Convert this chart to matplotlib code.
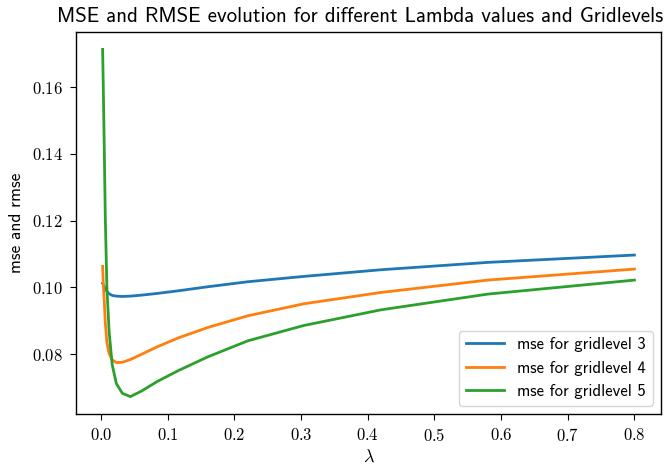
import matplotlib
matplotlib.use("Agg")
import matplotlib.pyplot as plt
from matplotlib.ticker import FuncFormatter

lambdas = [0.0024, 0.0034, 0.0046, 0.0064, 0.0088, 0.0122, 0.0168, 0.023, 0.032,
           0.044, 0.061, 0.084, 0.116, 0.16, 0.22, 0.304, 0.42, 0.58, 0.8]

mse_g3 = [0.1012, 0.1008, 0.1003, 0.0997, 0.0988, 0.0981, 0.0976, 0.0974, 0.0973,
          0.0974, 0.0977, 0.0982, 0.0990, 0.1002, 0.1017, 0.1033, 0.1053, 0.1075, 0.1097]
mse_g4 = [0.1063, 0.1010, 0.0970, 0.0895, 0.0835, 0.0802, 0.0783, 0.0775, 0.0776,
          0.0784, 0.0800, 0.0822, 0.0849, 0.0880, 0.0915, 0.0951, 0.0985, 0.1022, 0.1055]
mse_g5 = [0.1713, 0.1600, 0.1450, 0.1210, 0.1000, 0.0866, 0.0768, 0.0712, 0.0683,
          0.0673, 0.0690, 0.0718, 0.0751, 0.0792, 0.0840, 0.0886, 0.0933, 0.0980, 0.1022]

labels = ["mse for gridlevel 3", "mse for gridlevel 4", "mse for gridlevel 5"]
xticks = [0.0, 0.1, 0.2, 0.3, 0.4, 0.5, 0.6, 0.7, 0.8]
yticks = [0.08, 0.10, 0.12, 0.14, 0.16]

plt.rcParams['font.family'] = ['cmss10', 'DejaVu Sans']
plt.rcParams['mathtext.fontset'] = 'cm'
plt.rcParams['axes.unicode_minus'] = False

fig = plt.figure(figsize=(6.67, 4.67), dpi=100)
ax = fig.add_axes([0.114, 0.1135, 0.877, 0.818])

for ys, lab in zip([mse_g3, mse_g4, mse_g5], labels):
    ax.plot(lambdas, ys, label=lab, linewidth=2)

ax.set_xticks(xticks)
ax.set_yticks(yticks)
ax.xaxis.set_major_formatter(FuncFormatter(lambda v, p: r"$%.1f$" % v))
ax.yaxis.set_major_formatter(FuncFormatter(lambda v, p: r"$%.2f$" % v))
ax.tick_params(labelsize=12, length=4.3, pad=5)
for s in ax.spines.values():
    s.set_linewidth(1.0)

ax.set_xlabel(r"$\lambda$", fontsize=13, labelpad=3)
ax.set_ylabel("mse and rmse", fontsize=12.5, labelpad=6)
ax.set_title("MSE and RMSE evolution for different Lambda values and Gridlevels",
             fontsize=15.1, pad=7, x=0.486)
ax.legend(loc="lower right", fontsize=12, handlelength=2.3)

fig.savefig("out.png", dpi=100)
